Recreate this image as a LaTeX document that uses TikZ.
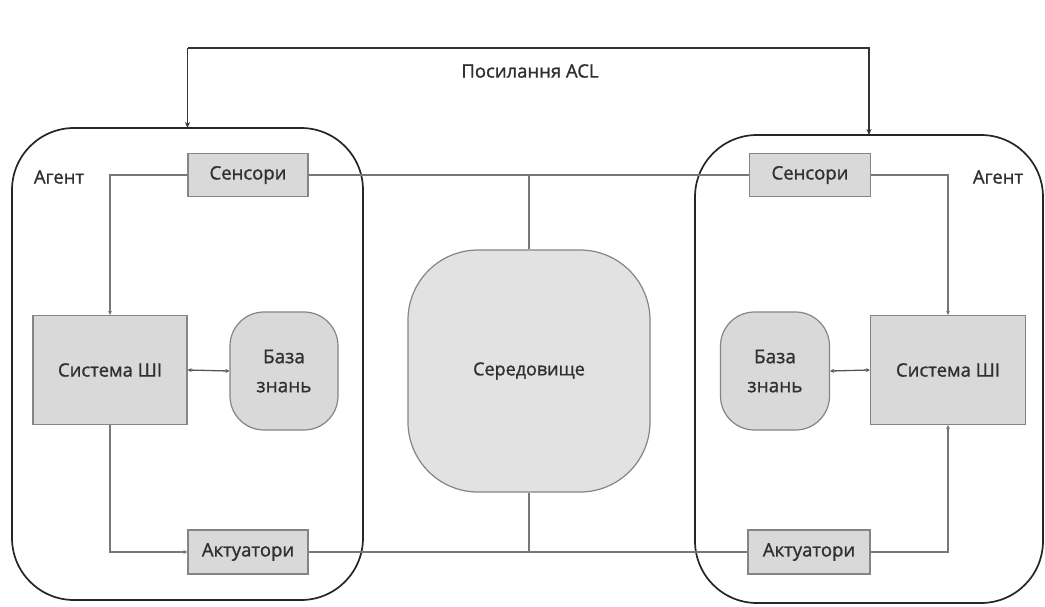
\documentclass[tikz,border=0pt]{standalone}
\usepackage{fontspec}
\setmainfont{Open Sans}
\newfontfamily\semib[FakeBold=1.2]{Open Sans}
\usetikzlibrary{arrows.meta}
\definecolor{boxfill}{HTML}{D9D9D9}
\definecolor{envfill}{HTML}{E2E2E2}
\definecolor{boxline}{HTML}{858585}
\definecolor{conline}{HTML}{777777}
\definecolor{darkline}{HTML}{555555}
\definecolor{txt}{HTML}{303030}
\tikzset{
  agentbox/.style={draw=black!85, line width=1.7pt, rounded corners=62pt, fill=none},
  rectbox/.style={draw=boxline, line width=1.2pt, fill=boxfill, text=txt, font=\semib\fontsize{18.5}{22}\selectfont, inner sep=0pt},
  roundbox/.style={draw=boxline, line width=1.2pt, fill=boxfill, text=txt, font=\semib\fontsize{19}{29}\selectfont, inner sep=0pt, rounded corners=34pt, align=center},
  envbox/.style={draw=boxline, line width=1.2pt, fill=envfill, text=txt, font=\semib\fontsize{18}{22}\selectfont, inner sep=0pt, rounded corners=70pt},
  conn/.style={draw=conline, line width=1.1pt},
  kbconn/.style={draw=darkline, line width=1.3pt, {Stealth[length=4pt,width=4pt]}-{Stealth[length=4pt,width=4pt]}},
  tip/.style={-{Stealth[length=4pt,width=4pt]}},
  acl/.style={draw=black!80, line width=1.4pt, -{Stealth[length=6pt,width=5pt]}},
  lbl/.style={text=txt, font=\semib\fontsize{18.5}{22}\selectfont, inner sep=0pt},
}
\begin{document}
\begin{tikzpicture}[x=1pt,y=-1pt]
\useasboundingbox (0,0) rectangle (1045,606);
\fill[white] (0,0) rectangle (1045,606);
% agents
\draw[agentbox] (12,128) rectangle (363,600);
\draw[agentbox] (695,135) rectangle (1043,603);
\node[lbl] (agL) at (59,177) {Агент};
\node[lbl] (agR) at (998,177) {Агент};
% left agent nodes
\node[rectbox, minimum width=120pt, minimum height=43pt] (sensL) at (248,175) {Сенсори};
\node[rectbox, minimum width=154pt, minimum height=109pt] (sysL) at (110,370) {Система ШІ};
\node[roundbox, minimum width=108pt, minimum height=118pt] (kbL) at (284,371) {База\\знань};
\node[rectbox, minimum width=120pt, minimum height=44pt] (actL) at (248,552) {Актуатори};
% right agent nodes
\node[rectbox, minimum width=121pt, minimum height=43pt] (sensR) at (810,175) {Сенсори};
\node[rectbox, minimum width=155pt, minimum height=109pt] (sysR) at (948,370) {Система ШІ};
\node[roundbox, minimum width=109pt, minimum height=118pt] (kbR) at (775,371) {База\\знань};
\node[rectbox, minimum width=122pt, minimum height=44pt] (actR) at (809,552) {Актуатори};
% environment
\node[envbox, minimum width=242pt, minimum height=242pt] (env) at (529,371) {Середовище};
% junctions
\coordinate (jt) at (529,175);
\coordinate (jb) at (529,552);
\coordinate (aclL) at (187.5,48);
\coordinate (aclR) at (869,48);
\coordinate (aclLt) at (187.5,128);
\coordinate (aclRt) at (869,135);
% connectors left
\draw[conn, tip] (sensL.west) -| (sysL.north);
\draw[conn, tip] (sysL.south) |- (actL.west);
\draw[kbconn] (sysL.east) -- (kbL.west);
% connectors right
\draw[conn, tip] (sensR.east) -| (sysR.north);
\draw[conn, tip] (actR.east) -| (sysR.south);
\draw[kbconn] (sysR.west) -- (kbR.east);
% environment connections
\draw[conn] (sensL.east) -- (sensR.west);
\draw[conn] (jt) -- (env.north);
\draw[conn] (actL.east) -- (actR.west);
\draw[conn] (jb) -- (env.south);
% ACL
\draw[acl] (aclL) -- (aclR) -- (aclRt);
\draw[acl] (aclL) -- (aclLt);
\node[lbl] (acltxt) at (530,71) {Посилання ACL};
\end{tikzpicture}
\end{document}
